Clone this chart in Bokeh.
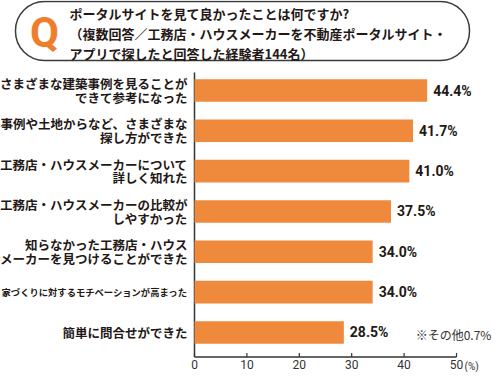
from bokeh.plotting import figure
from bokeh.models import ColumnDataSource, Range1d
from bokeh.layouts import column
from bokeh.core.properties import value
from bokeh.embed import file_html
from bokeh.resources import INLINE

# ---- data ----
categories = [
    "さまざまな建築事例を見ることが\nできて参考になった",
    "事例や土地からなど、さまざまな\n探し方ができた",
    "工務店・ハウスメーカーについて\n詳しく知れた",
    "工務店・ハウスメーカーの比較が\nしやすかった",
    "知らなかった工務店・ハウス\nメーカーを見つけることができた",
    "家づくりに対するモチベーションが高まった",
    "簡単に問合せができた",
]
values = [44.4, 41.7, 41.0, 37.5, 34.0, 34.0, 28.5]
x_ticks = [0, 10, 20, 30, 40, 50]
title_lines = [
    "ポータルサイトを見て良かったことは何ですか?",
    "（複数回答／工務店・ハウスメーカーを不動産ポータルサイト・",
    "アプリで探したと回答した経験者144名）",
]
note_text = "※その他0.7%"
unit_text = "(%)"

JP = "Noto Sans CJK JP"
DARK = "#231815"
AX = "#333333"
ORANGE = "#ef8a3d"

# ---- title panel ----
W = 492
TH = 70
tp = figure(width=W, height=TH, x_range=Range1d(0, W), y_range=Range1d(TH, 0),
            toolbar_location=None, output_backend="svg", min_border=0)
tp.axis.visible = False
tp.grid.visible = False
tp.outline_line_color = None
tp.quad(left=15, right=469, top=1, bottom=60, border_radius=29,
        fill_color="white", line_color="#3a3a3a", line_width=1.5)
tp.text(x=[44], y=[31.5], text=["Q"], text_font=value("Roboto"), text_font_style="bold",
        text_font_size="42px", text_color="#ee7d2c", text_align="center", text_baseline="middle")
tsrc = ColumnDataSource(dict(x=[69] * len(title_lines), y=[12.5 + 20 * i for i in range(len(title_lines))],
                             t=title_lines))
tp.text(x="x", y="y", text="t", source=tsrc, text_font=value(JP), text_font_style="bold",
        text_font_size="13px", text_color=DARK, text_align="left", text_baseline="middle")

# ---- chart ----
n = len(categories)
idx = list(range(n))
CH = 302
px_x = 5.24          # px per % unit
left_px = 194        # px position of x=0
row_px = 40.33       # px per row
first_px = 20        # px from chart top to first row centre
x0 = -left_px / px_x
x1 = (W - left_px) / px_x
y_top = -first_px / row_px
y_bot = (CH - first_px) / row_px
p = figure(width=W, height=CH, x_range=Range1d(x0, x1), y_range=Range1d(y_bot, y_top),
           toolbar_location=None, output_backend="svg", min_border=0)
p.axis.visible = False
p.grid.visible = False
p.outline_line_color = None

base = n - 1 + 24.5 / row_px      # baseline just below last bar
ax_top = y_top + 2 / row_px
tick_len = 4 / row_px

# axes drawn from the tick values
p.segment(x0=[x_ticks[0]], y0=[base], x1=[x_ticks[-1]], y1=[base], line_color=AX, line_width=1.5)
p.segment(x0=[0], y0=[ax_top], x1=[0], y1=[base], line_color=AX, line_width=1.5)
p.segment(x0=x_ticks, y0=[base] * len(x_ticks), x1=x_ticks, y1=[base - tick_len] * len(x_ticks),
          line_color=AX, line_width=1.2)
p.text(x=x_ticks, y=[base] * len(x_ticks), text=[str(t) for t in x_ticks], y_offset=3,
       text_align="center", text_baseline="top", text_font=value("Roboto"),
       text_font_size="12px", text_color=AX)
p.text(x=[x_ticks[-1]], y=[base], text=[unit_text], x_offset=8, y_offset=4,
       text_align="left", text_baseline="top", text_font=value("Roboto"),
       text_font_size="10px", text_color=AX)

src = ColumnDataSource(dict(
    y=idx, v=values, cat=categories,
    lab=[f"{v:.1f}%" for v in values],
    fs=[f"{min(12.5, 187 / max(len(s) for s in c.split(chr(10)))):.1f}px" for c in categories],
))
p.hbar(y="y", left=0, right="v", height=0.56, source=src, fill_color=ORANGE, line_color=None)
p.text(x=0, y="y", text="cat", source=src, x_offset=-7, text_align="right", text_baseline="middle",
       text_font=value(JP), text_font_style="bold", text_font_size="fs", text_color=DARK,
       text_line_height=0.72)
p.text(x="v", y="y", text="lab", source=src, x_offset=6, text_align="left", text_baseline="middle",
       text_font=value("Roboto"), text_font_style="bold", text_font_size="14px", text_color=DARK)
p.text(x=[50], y=[idx[-1]], text=[note_text], x_offset=-3, y_offset=2, text_align="center",
       text_baseline="middle", text_font=value(JP), text_font_size="12px", text_color=AX)

layout = column(tp, p, spacing=0)
open("out.html", "w").write(file_html(layout, INLINE))
